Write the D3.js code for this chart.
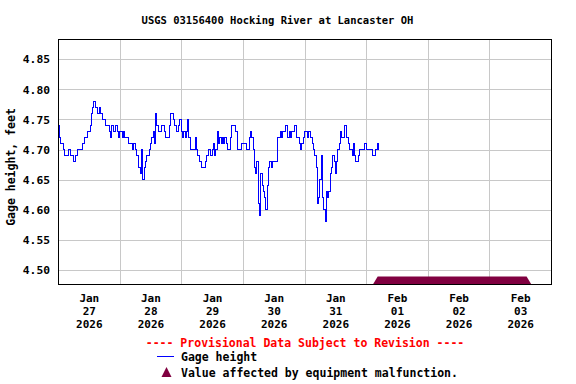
<!DOCTYPE html>
<html lang='en'>

<head>
   <meta charset='UTF-8'>
   <style>
      body {
         margin: 0;
         background: #fff;
      }

      text {
         font-family: 'DejaVu Sans Mono', monospace;
         font-weight: bold;
      }

      .grid line {
         stroke: #c8c8c8;
         shape-rendering: crispEdges;
      }
   </style>
   <script src="https://cdnjs.cloudflare.com/ajax/libs/d3/7.8.5/d3.min.js"></script>
   <title>Hocking River at Lancaster</title>
</head>

<body>
   <svg id='chart'></svg>

   <script>
      'use strict'

      const title = 'USGS 03156400 Hocking River at Lancaster OH'
      const yLabel = 'Gage height, feet'
      const yTicks = [4.50, 4.55, 4.60, 4.65, 4.70, 4.75, 4.80, 4.85]
      const dayLabels = [
         ['Jan', '27', '2026'], ['Jan', '28', '2026'], ['Jan', '29', '2026'], ['Jan', '30', '2026'],
         ['Jan', '31', '2026'], ['Feb', '01', '2026'], ['Feb', '02', '2026'], ['Feb', '03', '2026']]
      const seriesStart = '2026-01-27T00:00Z'
      const seriesEnd = '2026-02-04T00:00Z'
      const stepMinutes = 30

      // gage height, feet, every 30 minutes from Jan 27 00:00
      const gage = [
         4.74, 4.72, 4.71, 4.71, 4.70, 4.69, 4.69, 4.69, 4.70, 4.70, 4.69, 4.69, 4.68, 4.68, 4.69, 4.70,
         4.70, 4.70, 4.70, 4.71, 4.71, 4.72, 4.72, 4.73, 4.73, 4.74, 4.76, 4.77, 4.78, 4.77, 4.77, 4.76,
         4.77, 4.76, 4.76, 4.75, 4.75, 4.74, 4.74, 4.74, 4.73, 4.72, 4.74, 4.73, 4.73, 4.74, 4.73, 4.72,
         // Jan 28
         4.73, 4.73, 4.72, 4.73, 4.72, 4.72, 4.72, 4.71, 4.71, 4.71, 4.70, 4.71, 4.70, 4.69, 4.69, 4.67,
         4.66, 4.70, 4.65, 4.67, 4.68, 4.69, 4.69, 4.70, 4.71, 4.72, 4.73, 4.71, 4.76, 4.74, 4.73, 4.73,
         4.73, 4.74, 4.74, 4.73, 4.72, 4.72, 4.72, 4.74, 4.76, 4.76, 4.75, 4.74, 4.73, 4.73, 4.74, 4.75,
         // Jan 29
         4.73, 4.72, 4.73, 4.72, 4.73, 4.75, 4.72, 4.70, 4.70, 4.70, 4.70, 4.72, 4.70, 4.69, 4.68, 4.68,
         4.67, 4.67, 4.67, 4.68, 4.69, 4.70, 4.70, 4.69, 4.70, 4.71, 4.69, 4.70, 4.73, 4.71, 4.72, 4.71,
         4.72, 4.71, 4.72, 4.71, 4.70, 4.70, 4.72, 4.74, 4.74, 4.74, 4.73, 4.73, 4.70, 4.70, 4.70, 4.71,
         // Jan 30
         4.71, 4.71, 4.71, 4.70, 4.70, 4.72, 4.73, 4.72, 4.70, 4.67, 4.66, 4.68, 4.61, 4.59, 4.66, 4.64,
         4.63, 4.62, 4.60, 4.64, 4.67, 4.68, 4.67, 4.68, 4.68, 4.68, 4.68, 4.72, 4.72, 4.73, 4.72, 4.73,
         4.73, 4.74, 4.74, 4.72, 4.73, 4.72, 4.73, 4.73, 4.74, 4.74, 4.72, 4.72, 4.71, 4.70, 4.71, 4.72,
         // Jan 31
         4.73, 4.73, 4.72, 4.73, 4.73, 4.72, 4.71, 4.70, 4.69, 4.67, 4.61, 4.62, 4.65, 4.69, 4.62, 4.60,
         4.58, 4.63, 4.62, 4.63, 4.66, 4.67, 4.69, 4.68, 4.66, 4.68, 4.70, 4.71, 4.73, 4.72, 4.72, 4.74,
         4.74, 4.72, 4.71, 4.70, 4.70, 4.69, 4.71, 4.69, 4.68, 4.68, 4.69, 4.70, 4.70, 4.70, 4.70, 4.71,
         // Feb 01
         4.70, 4.70, 4.70, 4.70, 4.70, 4.69, 4.69, 4.70, 4.70, 4.71, 4.70]

      const malfunction = ['2026-02-01T04:30Z', '2026-02-03T14:30Z']

      const width = 576, height = 384
      const plotLeft = 58, plotRight = 551, plotTop = 39, plotBottom = 284

      const svg = d3.select('#chart')
         .attr('width', width)
         .attr('height', height)

      const t0 = new Date(seriesStart)
      const points = gage.map((v, i) => [new Date(+t0 + i * stepMinutes * 60000), v])

      const x = d3.scaleUtc([t0, new Date(seriesEnd)], [plotLeft, plotRight])
      const y = d3.scaleLinear([4.4767, 4.8837], [plotBottom, plotTop])

      svg.append('rect')
         .attr('x', plotLeft).attr('y', plotTop)
         .attr('width', plotRight - plotLeft).attr('height', plotBottom - plotTop)
         .attr('fill', '#fff')

      // grid
      svg.append('g')
         .attr('class', 'grid')
         .attr('transform', `translate(${plotLeft},0)`)
         .call(d3.axisLeft(y).tickValues(yTicks).tickSize(-(plotRight - plotLeft)).tickFormat(''))
         .call(g => g.select('.domain').remove())

      const midnights = d3.utcDay.range(d3.utcDay.offset(t0, 1), new Date(seriesEnd))
      svg.append('g')
         .attr('class', 'grid')
         .attr('transform', `translate(0,${plotBottom})`)
         .call(d3.axisBottom(x).tickValues(midnights).tickSize(-(plotBottom - plotTop)).tickFormat(''))
         .call(g => g.select('.domain').remove())

      // y axis labels
      svg.append('g')
         .attr('transform', `translate(${plotLeft},0)`)
         .call(d3.axisLeft(y).tickValues(yTicks).tickSize(0).tickPadding(8).tickFormat(d3.format('.2f')))
         .call(g => g.select('.domain').remove())
         .selectAll('text')
         .attr('font-size', 11.3)
         .attr('font-family', null)
         .attr('fill', '#000')

      // x axis labels at noon of each day
      const noons = dayLabels.map((d, i) => d3.utcHour.offset(d3.utcDay.offset(t0, i), 12))
      const xAxis = svg.append('g')
         .attr('transform', `translate(0,${plotBottom})`)
         .call(d3.axisBottom(x).tickValues(noons).tickSize(0).tickFormat(''))
         .call(g => g.select('.domain').remove())

      xAxis.selectAll('.tick text')
         .attr('font-size', 11)
         .attr('font-family', null)
         .attr('fill', '#000')
         .attr('y', 18)
         .attr('dy', 0)
         .each(function (d, i) {
            d3.select(this).selectAll('tspan')
               .data(dayLabels[i])
               .join('tspan')
               .attr('x', 0)
               .attr('dy', (s, j) => j === 0 ? 0 : 12.9)
               .text(s => s)
         })

      // malfunction band
      const mx0 = x(new Date(malfunction[0])), mx1 = x(new Date(malfunction[1]))
      svg.append('path')
         .attr('d', `M${mx0 - 4.5},${plotBottom} L${mx0},${plotBottom - 7.5} L${mx1},${plotBottom - 7.5} L${mx1 + 4.5},${plotBottom} Z`)
         .attr('fill', '#800040')

      // gage line
      svg.append('path')
         .datum(points)
         .attr('fill', 'none')
         .attr('stroke', '#0000ff')
         .attr('stroke-width', 1)
         .attr('shape-rendering', 'crispEdges')
         .attr('d', d3.line().x(d => x(d[0])).y(d => y(d[1])).curve(d3.curveStepAfter))

      // frame
      svg.append('rect')
         .attr('x', plotLeft + 0.5).attr('y', plotTop + 0.5)
         .attr('width', plotRight - plotLeft).attr('height', plotBottom - plotTop)
         .attr('fill', 'none')
         .attr('stroke', '#000')

      svg.append('text')
         .attr('x', 277.5).attr('y', 24)
         .attr('text-anchor', 'middle')
         .attr('font-size', 10.5)
         .text(title)

      svg.append('text')
         .attr('transform', `translate(15,167) rotate(-90)`)
         .attr('text-anchor', 'middle')
         .attr('font-size', 11.5)
         .text(yLabel)

      // legend
      svg.append('text')
         .attr('x', 305).attr('y', 347)
         .attr('text-anchor', 'middle')
         .attr('font-size', 11.5)
         .attr('fill', '#ff0000')
         .text('---- Provisional Data Subject to Revision ----')

      svg.append('line')
         .attr('x1', 157).attr('x2', 174)
         .attr('y1', 356.5).attr('y2', 356.5)
         .attr('stroke', '#0000ff')

      svg.append('text')
         .attr('x', 181).attr('y', 360.5)
         .attr('font-size', 11.5)
         .text('Gage height')

      svg.append('path')
         .attr('d', 'M166.5,367 L171.5,377 L161.5,377 Z')
         .attr('fill', '#800040')

      svg.append('text')
         .attr('x', 181).attr('y', 377)
         .attr('font-size', 11.5)
         .text('Value affected by equipment malfunction.')
   </script>
</body>

</html>
